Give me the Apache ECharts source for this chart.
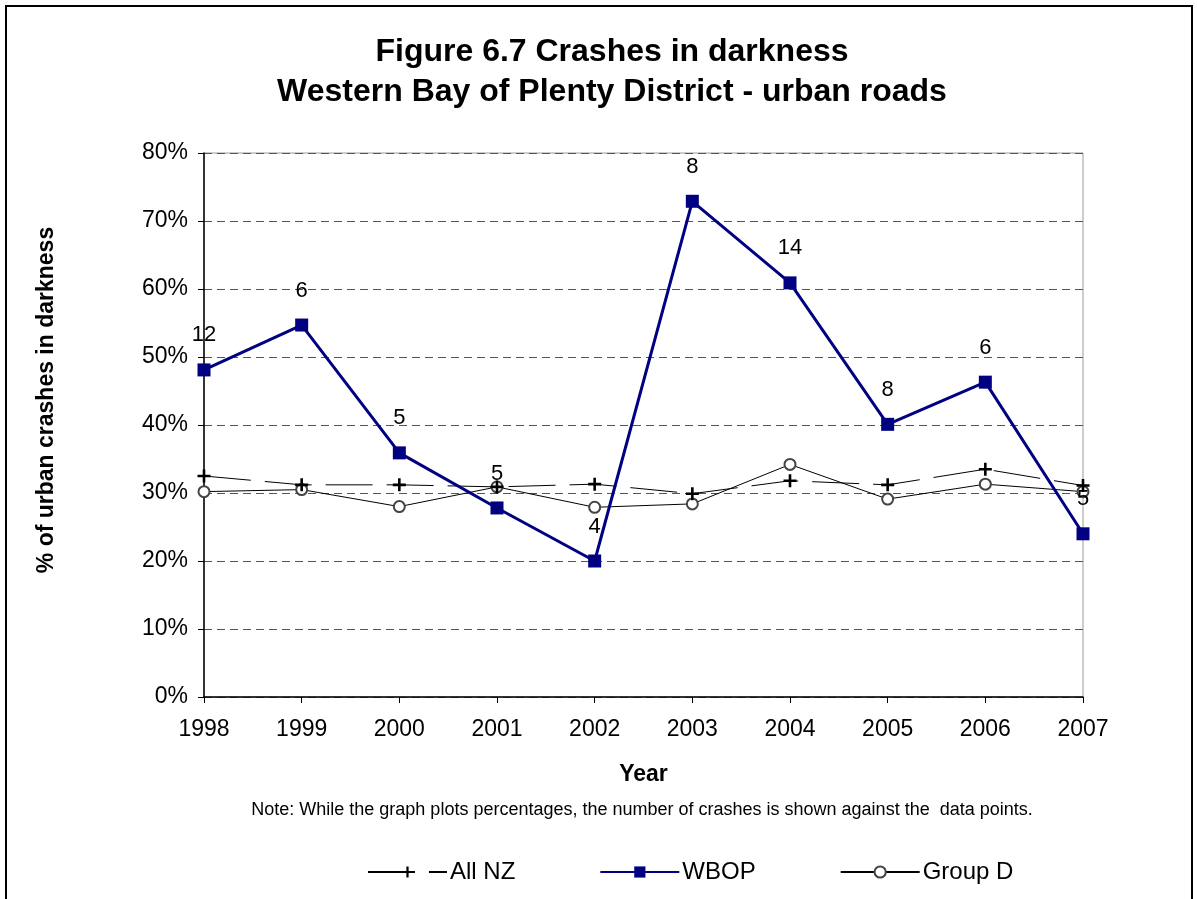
<!DOCTYPE html>
<html>
<head>
<meta charset="utf-8">
<style>
  html, body { margin: 0; padding: 0; background: #fff; }
  #chart { width: 1197px; height: 899px; }
</style>
<script src="https://cdn.jsdelivr.net/npm/echarts@6/dist/echarts.min.js"></script>
</head>
<body>
<div id="chart"></div>
<script>
// Crash years
const years = ['1998', '1999', '2000', '2001', '2002', '2003', '2004', '2005', '2006', '2007'];

// Share of urban crashes in darkness (%)
const allNZ  = [32.5, 31.2, 31.2, 30.9, 31.3, 29.9, 31.8, 31.2, 33.5, 31.1];
const wbop   = [48.1, 54.7, 35.9, 27.8, 20.0, 72.9, 60.9, 40.1, 46.3, 24.0];
const groupD = [30.2, 30.5, 28.0, 30.9, 27.9, 28.4, 34.2, 29.1, 31.3, 30.2];

// Number of WBOP crashes in darkness, shown at each point
const wbopCounts = [12, 6, 5, 5, 4, 8, 14, 8, 6, 5];

// Y axis ticks (%)
const yTicks = [0, 10, 20, 30, 40, 50, 60, 70, 80];

const FONT = 'Liberation Sans, Arial, Helvetica, sans-serif';
const plusPath = 'path://M4,0 H6 V4 H10 V6 H6 V10 H4 V6 H0 V4 H4 Z';

const chart = echarts.init(document.getElementById('chart'));

chart.setOption({
  animation: false,
  backgroundColor: '#fff',
  textStyle: { fontFamily: FONT },
  title: [
    {
      text: 'Figure 6.7 Crashes in darkness\nWestern Bay of Plenty District - urban roads',
      left: 607, top: 27, textAlign: 'center',
      textStyle: { fontFamily: FONT, fontSize: 32, fontWeight: 'bold', color: '#000', lineHeight: 40 }
    },
    {
      text: 'Note: While the graph plots percentages, the number of crashes is shown against the  data points.',
      left: 637, top: 796, textAlign: 'center',
      textStyle: { fontFamily: FONT, fontSize: 18, fontWeight: 'normal', color: '#000' }
    }
  ],
  graphic: [
    {
      type: 'rect', silent: true,
      shape: { x: 6, y: 6, width: 1186, height: 910 },
      style: { fill: 'none', stroke: '#000', lineWidth: 2 }
    },
    {
      // Y axis title
      type: 'text', silent: true,
      x: 47, y: 400, rotation: Math.PI / 2,
      style: {
        text: '% of urban crashes in darkness',
        font: 'bold 23px ' + FONT,
        fill: '#000',
        align: 'center',
        verticalAlign: 'middle'
      }
    }
  ],
  legend: {
    left: 362, top: 855,
    itemWidth: 79, itemHeight: 14, itemGap: 84,
    textStyle: { fontFamily: FONT, fontSize: 24, color: '#000', padding: [0, 0, 0, -2] },
    data: ['All NZ', 'WBOP', 'Group D']
  },
  grid: {
    left: 204, right: 114, top: 153, bottom: 202,
    show: true, borderColor: '#9a9a9a', borderWidth: 1, backgroundColor: 'transparent'
  },
  xAxis: {
    type: 'category',
    data: years,
    boundaryGap: false,
    name: 'Year',
    nameLocation: 'middle',
    nameGap: 66,
    nameTextStyle: { fontFamily: FONT, fontSize: 23, fontWeight: 'bold', color: '#000' },
    axisLine: { lineStyle: { color: '#000', width: 1.5 } },
    axisTick: { show: true, length: 6, alignWithLabel: true, lineStyle: { color: '#000' } },
    axisLabel: { fontFamily: FONT, fontSize: 23, color: '#000', margin: 21 },
    splitLine: { show: false }
  },
  yAxis: {
    type: 'value',
    min: 0, max: 80, interval: 10,
    axisLine: { show: true, lineStyle: { color: '#000', width: 1.5 } },
    axisTick: { show: true, length: 6, lineStyle: { color: '#000' } },
    axisLabel: {
      fontFamily: FONT, fontSize: 23, color: '#000', margin: 16,
      formatter: v => yTicks.includes(v) ? v + '%' : ''
    },
    splitLine: { show: true, lineStyle: { color: '#555', width: 1, type: [8, 5] } }
  },
  series: [
    {
      name: 'All NZ',
      type: 'line',
      data: allNZ,
      z: 3,
      symbol: plusPath,
      symbolSize: 13,
      lineStyle: { color: '#000', width: 1, type: [47, 14] },
      itemStyle: { color: '#000', borderWidth: 0 }
    },
    {
      name: 'WBOP',
      type: 'line',
      data: wbop,
      z: 4,
      symbol: 'rect',
      symbolSize: 13,
      lineStyle: { color: '#000080', width: 3 },
      itemStyle: { color: '#000080', borderWidth: 0 },
      label: {
        show: true,
        position: 'top',
        distance: 17,
        fontFamily: FONT,
        fontSize: 22,
        color: '#000',
        formatter: p => String(wbopCounts[p.dataIndex])
      }
    },
    {
      name: 'Group D',
      type: 'line',
      data: groupD,
      z: 2,
      symbol: 'emptyCircle',
      symbolSize: 11,
      lineStyle: { color: '#000', width: 1 },
      itemStyle: { color: '#444', borderColor: '#444', borderWidth: 2 }
    }
  ]
});
</script>
</body>
</html>
